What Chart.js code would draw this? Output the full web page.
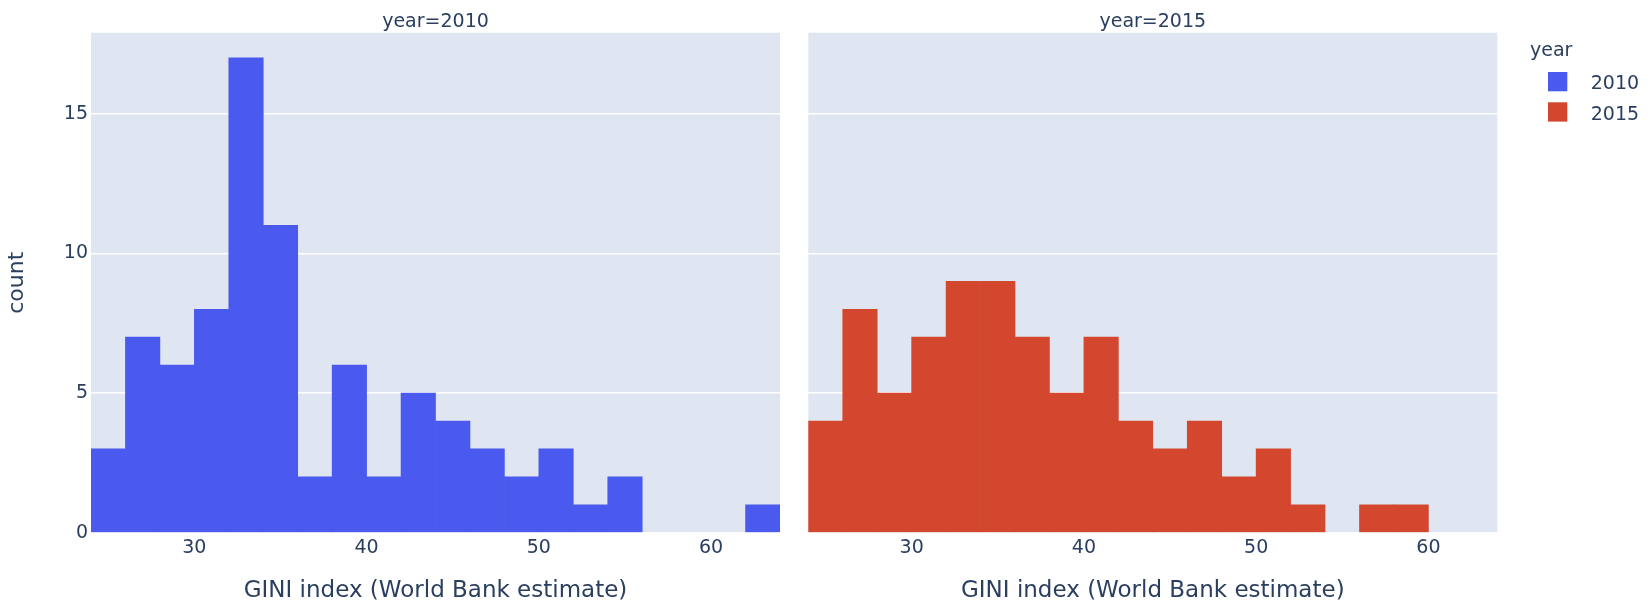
<!DOCTYPE html>
<html>
<head>
<meta charset="utf-8">
<script src="https://cdn.jsdelivr.net/npm/chart.js@4.4.1/dist/chart.umd.min.js"></script>
<style>
  html, body { margin: 0; padding: 0; background: #fff; }
  #wrap { position: relative; width: 1650px; height: 616px; overflow: hidden; }
  canvas { position: absolute; top: 0; }
</style>
</head>
<body>
<div id="wrap">
  <canvas id="chart2010" width="790" height="616" style="left:0;width:790px;height:616px"></canvas>
  <canvas id="chart2015" width="850" height="616" style="left:800px;width:850px;height:616px"></canvas>
</div>
<script>
// histogram bins (left edge of each 2-wide bin)
const binStarts = [24, 26, 28, 30, 32, 34, 36, 38, 40, 42, 44, 46, 48, 50, 52, 54, 56, 58, 60, 62];
const binWidth = 2;
const counts2010 = [3, 7, 6, 8, 17, 11, 2, 6, 2, 5, 4, 3, 2, 3, 1, 2, 0, 0, 0, 1];
const counts2015 = [4, 8, 5, 7, 9, 9, 7, 5, 7, 4, 3, 4, 2, 3, 1, 0, 1, 1, 0, 0];
const years = ['2010', '2015'];
const yearColors = ['#4a5aee', '#d3472f'];
const xTicks = [30, 40, 50, 60];
const yTicks = [0, 5, 10, 15];
const xTitle = 'GINI index (World Bank estimate)';
const yTitle = 'count';
const legendTitle = 'year';

const textColor = '#2a3f5f';
const plotBg = '#dfe6f1';
const fontFamily = '"DejaVu Sans", Verdana, sans-serif';

Chart.defaults.font.family = fontFamily;
Chart.defaults.color = textColor;

const plotBackground = {
    id: 'plotBackground',
    beforeDraw(chart) {
        const { ctx, chartArea } = chart;
        ctx.save();
        ctx.fillStyle = plotBg;
        ctx.fillRect(chartArea.left, chartArea.top, chartArea.right - chartArea.left, chartArea.bottom - chartArea.top);
        ctx.restore();
    }
};

// subplot label "year=...." centred over the plot area
const facetTitle = {
    id: 'facetTitle',
    afterDraw(chart, args, opts) {
        const { ctx, chartArea } = chart;
        ctx.save();
        ctx.font = '19px ' + fontFamily;
        ctx.fillStyle = textColor;
        ctx.textAlign = 'center';
        ctx.textBaseline = 'alphabetic';
        ctx.fillText(opts.text, (chartArea.left + chartArea.right) / 2, 26.5);
        ctx.restore();
    }
};

const yearLegend = {
    id: 'yearLegend',
    afterDraw(chart, args, opts) {
        if (!opts.show) return;
        const { ctx, chartArea } = chart;
        const x0 = chartArea.right + 32.7;
        ctx.save();
        ctx.font = '19px ' + fontFamily;
        ctx.textAlign = 'left';
        ctx.textBaseline = 'alphabetic';
        ctx.fillStyle = textColor;
        ctx.fillText(legendTitle, x0, 55.5);
        years.forEach(function (yr, i) {
            const top = 72 + i * 30.3;
            ctx.fillStyle = yearColors[i];
            ctx.fillRect(x0 + 18, top, 19.3, 19.3);
            ctx.fillStyle = textColor;
            ctx.fillText(yr, x0 + 60.7, top + 17.3);
        });
        ctx.restore();
    }
};

function makeChart(id, counts, idx, showYAxis, padLeft, padRight) {
    // empty bins are left out so no hairline is drawn on the baseline
    const data = binStarts.map(function (b, i) {
        return { x: b + binWidth / 2, y: counts[i] === 0 ? null : counts[i] };
    });
    return new Chart(document.getElementById(id), {
        type: 'bar',
        data: {
            datasets: [{
                label: years[idx],
                data: data,
                backgroundColor: yearColors[idx],
                borderWidth: 0,
                categoryPercentage: 1,
                barPercentage: 1
            }]
        },
        plugins: [plotBackground, facetTitle, yearLegend],
        options: {
            responsive: false,
            animation: false,
            devicePixelRatio: 1,
            layout: { padding: { top: 32.7, left: padLeft, right: padRight, bottom: 0 } },
            plugins: {
                legend: { display: false },
                tooltip: { enabled: false },
                facetTitle: { text: 'year=' + years[idx] },
                yearLegend: { show: !showYAxis }
            },
            scales: {
                x: {
                    type: 'linear',
                    min: 24,
                    max: 64,
                    offset: false,
                    grid: { display: false, offset: false, drawTicks: false },
                    border: { display: false },
                    afterBuildTicks: function (scale) {
                        scale.ticks = xTicks.map(function (v) { return { value: v }; });
                    },
                    afterFit: function (scale) { scale.height = 83.3; },
                    ticks: { font: { size: 19 }, padding: 4, maxRotation: 0 },
                    title: {
                        display: true,
                        text: xTitle,
                        font: { size: 23 },
                        padding: { top: 0, bottom: 11.2 }
                    }
                },
                y: {
                    min: 0,
                    max: 17.9,
                    grid: { color: '#ffffff', lineWidth: 1.6, drawTicks: false },
                    border: { display: false },
                    afterBuildTicks: function (scale) {
                        scale.ticks = yTicks.map(function (v) { return { value: v }; });
                    },
                    afterFit: function (scale) { scale.width = showYAxis ? 91 : 0; },
                    ticks: { display: showYAxis, font: { size: 19 }, padding: 3 },
                    title: {
                        display: showYAxis,
                        text: yTitle,
                        font: { size: 22 },
                        padding: { top: 4.3, bottom: 0 }
                    }
                }
            }
        }
    });
}

makeChart('chart2010', counts2010, 0, true, 0, 10);
makeChart('chart2015', counts2015, 1, false, 8.3, 152.7);
</script>
</body>
</html>
